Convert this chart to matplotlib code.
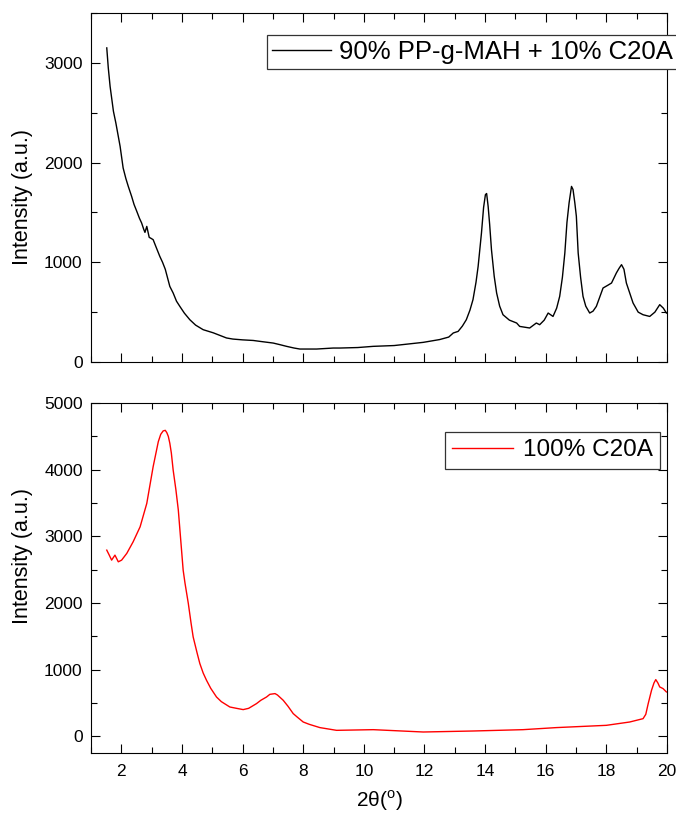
import numpy as np
import matplotlib.pyplot as plt
from matplotlib.ticker import MultipleLocator

plt.rcParams['font.family'] = ['Liberation Sans', 'DejaVu Sans']
plt.rcParams['mathtext.fontset'] = 'custom'
plt.rcParams['mathtext.rm'] = 'Liberation Sans'

# 90% PP-g-MAH + 10% C20A
x_top = [1.52, 1.57, 1.63, 1.74, 1.82, 1.96, 2.06, 2.15, 2.23, 2.34, 2.42, 2.51,
         2.60, 2.67, 2.74, 2.78, 2.84, 2.92, 2.98, 3.05, 3.15, 3.27, 3.36, 3.45,
         3.60, 3.71, 3.82, 3.93, 4.08, 4.26, 4.45, 4.70, 5.03, 5.47, 5.68, 6.00,
         6.35, 6.57, 7.01, 7.23, 7.45, 7.70, 7.89, 8.44, 8.99, 9.21, 9.80, 10.31,
         11.0, 11.96, 12.5, 12.80, 12.95, 13.11, 13.25, 13.38, 13.50, 13.60, 13.70,
         13.77, 13.88, 13.95, 14.01, 14.05, 14.10, 14.15, 14.21, 14.30, 14.38, 14.48,
         14.59, 14.80, 15.04, 15.14, 15.47, 15.69, 15.80, 15.95, 16.08, 16.24, 16.36,
         16.46, 16.55, 16.63, 16.70, 16.77, 16.85, 16.90, 16.96, 17.01, 17.07, 17.15,
         17.23, 17.32, 17.45, 17.56, 17.67, 17.89, 18.05, 18.17, 18.33, 18.42, 18.50,
         18.58, 18.66, 18.77, 18.88, 19.05, 19.21, 19.43, 19.60, 19.76, 19.88, 19.98]
y_top = [3150, 2950, 2764, 2514, 2397, 2163, 1946, 1840, 1761, 1661, 1580, 1511,
         1440, 1394, 1330, 1300, 1360, 1250, 1240, 1227, 1150, 1059, 1000, 930,
         758, 692, 610, 558, 490, 424, 370, 324, 293, 241, 230, 222,
         216, 207, 190, 174, 157, 140, 130, 130, 140, 140, 145, 157,
         165, 197, 225, 250, 291, 307, 360, 424, 520, 625, 800,
         959, 1294, 1550, 1678, 1690, 1561, 1380, 1126, 860, 692, 560,
         474, 420, 391, 357, 341, 391, 374, 420, 491, 457, 540,
         658, 850, 1093, 1400, 1595, 1761, 1730, 1595, 1461, 1093, 850,
         658, 560, 491, 510, 558, 742, 770, 792, 893, 940, 976,
         930, 792, 692, 592, 500, 474, 457, 500, 575, 540, 491]

# 100% C20A
x_bot = [1.52, 1.60, 1.68, 1.79, 1.90, 2.01, 2.18, 2.39, 2.62, 2.84, 3.05, 3.22,
         3.30, 3.38, 3.45, 3.50, 3.55, 3.60, 3.65, 3.71, 3.80, 3.88, 3.95, 4.04,
         4.10, 4.21, 4.30, 4.37, 4.50, 4.59, 4.70, 4.81, 4.95, 5.14, 5.30, 5.58,
         5.80, 6.02, 6.20, 6.46, 6.60, 6.79, 6.90, 7.07, 7.15, 7.34, 7.50, 7.67,
         7.80, 8.00, 8.20, 8.55, 9.10, 10.31, 11.96, 13.60, 15.25, 16.35, 18.00,
         18.77, 19.21, 19.30, 19.38, 19.49, 19.57, 19.63, 19.70, 19.76, 19.87, 19.98]
y_bot = [2793, 2720, 2643, 2718, 2618, 2643, 2744, 2918, 3143, 3494, 4045, 4420,
         4530, 4581, 4590, 4556, 4500, 4396, 4250, 3995, 3700, 3395, 3000, 2493,
         2300, 1993, 1700, 1491, 1250, 1092, 950, 841, 720, 590, 520, 440,
         420, 401, 420, 491, 540, 590, 630, 641, 620, 541, 450, 341,
         290, 215, 180, 131, 90, 100, 65, 80, 100, 131, 165,
         215, 265, 330, 491, 691, 800, 851, 800, 741, 716, 666]

label_top = '90% PP-g-MAH + 10% C20A'
label_bot = '100% C20A'

fig = plt.figure(figsize=(6.76, 8.14), dpi=100)
ax1 = fig.add_axes([91/676, 1-362/814, 576/676, 349/814])
ax2 = fig.add_axes([91/676, 1-753/814, 576/676, 350/814])

ax1.plot(x_top, y_top, color='black', lw=1.0, label=label_top)
ax2.plot(x_bot, y_bot, color='red', lw=1.0, label=label_bot)

ax1.set_ylim(0, 3500)
ax2.set_ylim(-250, 5000)

for ax in (ax1, ax2):
    ax.set_xlim(1, 20)
    ax.xaxis.set_major_locator(MultipleLocator(2))
    ax.xaxis.set_minor_locator(MultipleLocator(1))
    ax.yaxis.set_major_locator(MultipleLocator(1000))
    ax.yaxis.set_minor_locator(MultipleLocator(500))
    ax.tick_params(which='both', direction='in', top=True, right=True,
                   width=0.8, labelsize=12.5)
    ax.tick_params(which='major', length=6.5)
    ax.tick_params(which='minor', length=4)
    ax.tick_params(axis='x', pad=8)
    ax.tick_params(axis='y', pad=6)
    for sp in ax.spines.values():
        sp.set_linewidth(0.8)
    ax.set_ylabel('Intensity (a.u.)', fontsize=15.5)

ax1.tick_params(axis='x', labelbottom=False)
ax1.yaxis.set_label_coords(-0.10, 0.473)
ax2.yaxis.set_label_coords(-0.10, 0.563)

ax2.set_xlabel('2θ($^{\\rm o}$)', fontsize=15)
ax2.xaxis.set_label_coords(0.5, -0.1)

leg1 = ax1.legend(loc='upper left', bbox_to_anchor=(0.3056, 0.937), fontsize=18.5,
                  frameon=True, fancybox=False, framealpha=1, edgecolor='#333333',
                  borderpad=0.2, borderaxespad=0, handlelength=2.3, handletextpad=0.3)
leg1.get_frame().set_linewidth(0.9)

leg2 = ax2.legend(loc='upper right', bbox_to_anchor=(0.988, 0.917), fontsize=17.5,
                  frameon=True, fancybox=False, framealpha=1, edgecolor='#333333',
                  borderpad=0.3, borderaxespad=0, handlelength=2.5, handletextpad=0.4)
leg2.get_frame().set_linewidth(0.9)

fig.savefig('out.png', dpi=100)
